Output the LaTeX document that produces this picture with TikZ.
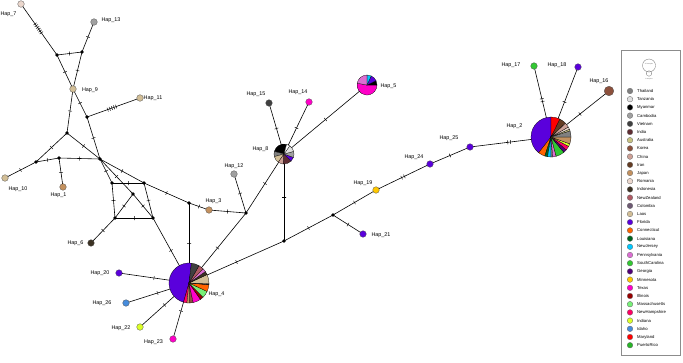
\documentclass[tikz,border=0pt]{standalone}
\usepackage{fontspec}
\setmainfont{Liberation Sans}
\usetikzlibrary{backgrounds}
\definecolor{cThailand}{RGB}{128,128,128}
\definecolor{cTanzania}{RGB}{225,225,225}
\definecolor{cMyanmar}{RGB}{0,0,0}
\definecolor{cCambodia}{RGB}{160,160,160}
\definecolor{cVietnam}{RGB}{64,64,64}
\definecolor{cIndia}{RGB}{95,45,50}
\definecolor{cAustralia}{RGB}{200,195,130}
\definecolor{cKorea}{RGB}{140,80,60}
\definecolor{cChina}{RGB}{205,160,150}
\definecolor{cIran}{RGB}{100,60,35}
\definecolor{cJapan}{RGB}{195,145,95}
\definecolor{cRomania}{RGB}{235,215,205}
\definecolor{cIndonesia}{RGB}{60,50,35}
\definecolor{cNewZealand}{RGB}{175,90,100}
\definecolor{cColombia}{RGB}{110,90,115}
\definecolor{cLaos}{RGB}{210,190,150}
\definecolor{cFlorida}{RGB}{90,0,220}
\definecolor{cConnecticut}{RGB}{255,100,0}
\definecolor{cLouisiana}{RGB}{0,100,30}
\definecolor{cNewJersey}{RGB}{0,200,255}
\definecolor{cPennsylvania}{RGB}{220,110,210}
\definecolor{cSouthCarolina}{RGB}{50,200,50}
\definecolor{cGeorgia}{RGB}{80,0,120}
\definecolor{cMinnesota}{RGB}{255,200,0}
\definecolor{cTexas}{RGB}{255,0,200}
\definecolor{cIllinois}{RGB}{150,0,0}
\definecolor{cMassachusetts}{RGB}{120,240,120}
\definecolor{cNewHampshire}{RGB}{255,0,100}
\definecolor{cIndiana}{RGB}{220,255,40}
\definecolor{cIdaho}{RGB}{70,140,220}
\definecolor{cMaryland}{RGB}{255,0,0}
\definecolor{cPuertoRico}{RGB}{40,180,40}
\newcommand\pieslice[5]{\filldraw[fill=#5, draw=black, line width=.25pt] (#1) -- ++(#3:#2) arc[start angle=#3, end angle=#4, radius=#2] -- cycle;}
\tikzset{
  hap/.style={circle, draw=black!70, line width=.3pt, inner sep=0pt, minimum size=6.6pt},
  jn/.style={circle, fill=black, inner sep=0pt, minimum size=3.6pt},
  pienode/.style={circle, inner sep=0pt, minimum size=#1},
  lbl/.style={font=\fontsize{5.4}{6}\selectfont, inner sep=0pt},
  edge/.style={line width=.6pt, black},
  tk/.style={sloped, draw, line width=.45pt, inner sep=0pt, minimum width=0pt, minimum height=4pt, rectangle},
  leg/.style={font=\fontsize{4.2}{5}\selectfont, anchor=west, inner sep=0pt},
  legdot/.style={circle, draw=black!60, line width=.3pt, inner sep=0pt, minimum size=5.6pt},
}
\begin{document}
\begin{tikzpicture}[x=1pt,y=1pt]
\useasboundingbox (0,0) rectangle (683,-362);
% junctions
\node[jn] (jA) at (57,-55) {};
\node[jn] (jB) at (82,-52) {};
\node[jn] (jC) at (87,-117) {};
\node[jn] (jD) at (67,-133) {};
\node[jn] (jE) at (36,-162) {};
\node[jn] (jF) at (59,-158) {};
\node[jn] (jG) at (100,-159) {};
\node[jn] (jH) at (112,-183) {};
\node[jn] (jI) at (144,-183) {};
\node[jn] (jJ) at (133,-194) {};
\node[jn] (jK) at (115,-218) {};
\node[jn] (jL) at (153,-218) {};
\node[jn] (jM) at (189,-203) {};
\node[jn] (jN) at (246,-213) {};
\node[jn] (jP) at (284,-241) {};
\node[jn] (jQ) at (333,-215) {};
% haplotypes
\node[hap, fill=cRomania] (h7) at (21,-4) {};
\node[hap, fill=cCambodia] (h13) at (94,-22) {};
\node[hap, fill=cLaos] (h9) at (73,-89) {};
\node[hap, fill=cLaos] (h11) at (140,-98) {};
\node[hap, fill=cLaos] (h10) at (5,-178) {};
\node[hap, fill=cJapan] (h1) at (63,-187) {};
\node[hap, fill=cIndonesia] (h6) at (91,-243) {};
\node[hap, fill=cJapan] (h3) at (209,-210) {};
\node[hap, fill=cCambodia] (h12) at (234,-174) {};
\node[hap, fill=cVietnam] (h15) at (269,-103) {};
\node[hap, fill=cTexas] (h14) at (309,-102) {};
\node[hap, fill=cFlorida] (h21) at (363,-234) {};
\node[hap, fill=cMinnesota] (h19) at (376,-190) {};
\node[hap, fill=cFlorida] (h24) at (430,-164) {};
\node[hap, fill=cFlorida] (h25) at (470,-147) {};
\node[hap, fill=cSouthCarolina] (h17) at (534,-66) {};
\node[hap, fill=cFlorida] (h18) at (578,-67) {};
\node[hap, fill=cKorea, minimum size=9.6pt] (h16) at (609,-91) {};
\node[hap, fill=cFlorida] (h20) at (119,-273) {};
\node[hap, fill=cIdaho] (h26) at (126,-303) {};
\node[hap, fill=cIndiana] (h22) at (140,-327) {};
\node[hap, fill=cTexas] (h23) at (173,-339) {};
% pies
\node[pienode=20pt] (h8) at (284,-154) {};
\node[pienode=20pt] (h5) at (367,-85) {};
\node[pienode=40pt] (h4) at (189,-283) {};
\node[pienode=40pt] (h2) at (551,-137) {};
% edges
\begin{scope}[on background layer]
\fill[white] (0,0) rectangle (683,-362);
\draw[edge] (h7.center) -- node[tk,pos=.39]{} node[tk,pos=.425]{} node[tk,pos=.46]{} node[tk,pos=.495]{} node[tk,pos=.53]{} node[tk,pos=.565]{} (jA.center);
\draw[edge] (jA.center) -- node[tk]{} (jB.center);
\draw[edge] (jB.center) -- node[tk]{} (h13.center);
\draw[edge] (jA.center) -- node[tk]{} (h9.center);
\draw[edge] (jB.center) -- node[tk]{} (h9.center);
\draw[edge] (h9.center) -- node[tk]{} (jD.center);
\draw[edge] (h9.center) -- node[tk]{} (jC.center);
\draw[edge] (jC.center) -- node[tk,pos=.39]{} node[tk,pos=.43]{} node[tk,pos=.47]{} node[tk,pos=.51]{} node[tk,pos=.55]{} (h11.center);
\draw[edge] (jC.center) -- node[tk]{} (jG.center);
\draw[edge] (jD.center) -- node[tk]{} (jE.center);
\draw[edge] (jD.center) -- node[tk]{} (jG.center);
\draw[edge] (jE.center) -- node[tk]{} (jF.center);
\draw[edge] (jF.center) -- node[tk]{} (jG.center);
\draw[edge] (jE.center) -- node[tk]{} (h10.center);
\draw[edge] (jF.center) -- node[tk]{} (h1.center);
\draw[edge] (jG.center) -- node[tk]{} (jH.center);
\draw[edge] (jG.center) -- node[tk]{} (jJ.center);
\draw[edge] (jG.center) -- node[tk]{} (jI.center);
\draw[edge] (jI.center) -- node[tk]{} (jM.center);
\draw[edge] (jH.center) -- node[tk]{} (jI.center);
\draw[edge] (jH.center) -- node[tk]{} (jK.center);
\draw[edge] (jI.center) -- node[tk]{} (jL.center);
\draw[edge] (jJ.center) -- node[tk]{} (jK.center);
\draw[edge] (jJ.center) -- node[tk]{} (jL.center);
\draw[edge] (jK.center) -- node[tk]{} (jL.center);
\draw[edge] (jK.center) -- node[tk]{} (h6.center);
\draw[edge] (jL.center) -- node[tk]{} (h4.center);
\draw[edge] (jM.center) -- node[tk]{} (h3.center);
\draw[edge] (jM.center) -- node[tk]{} (h4.center);
\draw[edge] (h3.center) -- node[tk]{} (jN.center);
\draw[edge] (h12.center) -- node[tk]{} (jN.center);
\draw[edge] (jN.center) -- node[tk]{} (h8.center);
\draw[edge] (jN.center) -- node[tk]{} (h4.center);
\draw[edge] (h8.center) -- node[tk]{} (jP.center);
\draw[edge] (jP.center) -- node[tk]{} (h4.center);
\draw[edge] (jP.center) -- node[tk]{} (jQ.center);
\draw[edge] (jQ.center) -- node[tk]{} (h21.center);
\draw[edge] (jQ.center) -- node[tk]{} (h19.center);
\draw[edge] (h19.center) -- node[tk,pos=.475]{} node[tk,pos=.525]{} (h24.center);
\draw[edge] (h24.center) -- node[tk]{} (h25.center);
\draw[edge] (h25.center) -- node[tk,pos=.465]{} node[tk,pos=.5]{} (h2.center);
\draw[edge] (h2.center) -- node[tk,pos=.5]{} node[tk,pos=.54]{} (h17.center);
\draw[edge] (h2.center) -- node[tk]{} (h18.center);
\draw[edge] (h2.center) -- node[tk]{} (h16.center);
\draw[edge] (h8.center) -- node[tk]{} (h15.center);
\draw[edge] (h8.center) -- node[tk]{} (h14.center);
\draw[edge] (h8.center) -- node[tk]{} (h5.center);
\draw[edge] (h4.center) -- node[tk]{} (h20.center);
\draw[edge] (h4.center) -- node[tk]{} (h26.center);
\draw[edge] (h4.center) -- node[tk]{} (h22.center);
\draw[edge] (h4.center) -- node[tk]{} (h23.center);
\end{scope}
% pie Hap_4
\pieslice{h4.center}{20}{83}{254}{cFlorida}
\pieslice{h4.center}{20}{254}{264}{cNewHampshire}
\pieslice{h4.center}{20}{264}{272}{cJapan}
\pieslice{h4.center}{20}{272}{282}{cKorea}
\pieslice{h4.center}{20}{282}{305}{cTexas}
\pieslice{h4.center}{20}{305}{315}{cIllinois}
\pieslice{h4.center}{20}{315}{335}{cMassachusetts}
\pieslice{h4.center}{20}{335}{355}{cConnecticut}
\pieslice{h4.center}{20}{355}{358}{cMyanmar}
\pieslice{h4.center}{20}{358}{385}{cLaos}
\pieslice{h4.center}{20}{385}{395}{cIndonesia}
\pieslice{h4.center}{20}{395}{405}{cPennsylvania}
\pieslice{h4.center}{20}{405}{420}{cNewZealand}
\pieslice{h4.center}{20}{420}{443}{cVietnam}
% pie Hap_2
\pieslice{h2.center}{20}{90}{232}{cFlorida}
\pieslice{h2.center}{20}{232}{252}{cConnecticut}
\pieslice{h2.center}{20}{252}{260}{cLouisiana}
\pieslice{h2.center}{20}{260}{270}{cNewJersey}
\pieslice{h2.center}{20}{270}{275}{cThailand}
\pieslice{h2.center}{20}{275}{285}{cPennsylvania}
\pieslice{h2.center}{20}{285}{310}{cSouthCarolina}
\pieslice{h2.center}{20}{310}{320}{cGeorgia}
\pieslice{h2.center}{20}{320}{332}{cNewHampshire}
\pieslice{h2.center}{20}{332}{340}{cIndiana}
\pieslice{h2.center}{20}{340}{360}{cJapan}
\pieslice{h2.center}{20}{360}{378}{cThailand}
\pieslice{h2.center}{20}{378}{383}{cAustralia}
\pieslice{h2.center}{20}{383}{390}{cRomania}
\pieslice{h2.center}{20}{390}{404}{cChina}
\pieslice{h2.center}{20}{404}{424}{cIran}
\pieslice{h2.center}{20}{424}{450}{cMaryland}
% pie Hap_8
\pieslice{h8.center}{10}{75}{165}{cMyanmar}
\pieslice{h8.center}{10}{165}{195}{cThailand}
\pieslice{h8.center}{10}{195}{235}{cLaos}
\pieslice{h8.center}{10}{235}{265}{cChina}
\pieslice{h8.center}{10}{265}{315}{cIndia}
\pieslice{h8.center}{10}{315}{340}{cFlorida}
\pieslice{h8.center}{10}{340}{375}{cCambodia}
\pieslice{h8.center}{10}{375}{415}{cTanzania}
\pieslice{h8.center}{10}{415}{435}{white}
% pie Hap_5
\pieslice{h5.center}{10}{170}{360}{cTexas}
\pieslice{h5.center}{10}{0}{25}{cMyanmar}
\pieslice{h5.center}{10}{25}{65}{cFlorida}
\pieslice{h5.center}{10}{65}{90}{cNewJersey}
\pieslice{h5.center}{10}{90}{170}{cPennsylvania}
% labels
\node[lbl] (l7) at (8.5,-14) {Hap\_7};
\node[lbl] (l13) at (111,-20) {Hap\_13};
\node[lbl] (l9) at (90,-90) {Hap\_9};
\node[lbl] (l11) at (153,-98) {Hap\_11};
\node[lbl] (l10) at (18,-189) {Hap\_10};
\node[lbl] (l1) at (58.5,-195) {Hap\_1};
\node[lbl] (l6) at (75.5,-243) {Hap\_6};
\node[lbl] (l3) at (213.5,-201) {Hap\_3};
\node[lbl] (l12) at (234,-166) {Hap\_12};
\node[lbl] (l8) at (260.5,-149) {Hap\_8};
\node[lbl] (l15) at (256,-94) {Hap\_15};
\node[lbl] (l14) at (298,-92) {Hap\_14};
\node[lbl] (l5) at (388.5,-86) {Hap\_5};
\node[lbl] (l19) at (363,-183) {Hap\_19};
\node[lbl] (l24) at (414,-157) {Hap\_24};
\node[lbl] (l25) at (449,-138) {Hap\_25};
\node[lbl] (l21) at (381,-235) {Hap\_21};
\node[lbl] (l2) at (514.5,-126) {Hap\_2};
\node[lbl] (l17) at (511,-65) {Hap\_17};
\node[lbl] (l18) at (557,-65) {Hap\_18};
\node[lbl] (l16) at (599,-81) {Hap\_16};
\node[lbl] (l4) at (216.5,-294) {Hap\_4};
\node[lbl] (l20) at (100,-273) {Hap\_20};
\node[lbl] (l26) at (102,-303) {Hap\_26};
\node[lbl] (l22) at (121,-328) {Hap\_22};
\node[lbl] (l23) at (153.5,-342) {Hap\_23};
% legend
\node[draw=black!45, line width=.4pt, rectangle, inner sep=0pt, minimum width=59.5pt, minimum height=305pt] (legbox) at (650.75,-203) {};
\node[circle, draw=black!55, line width=.3pt, inner sep=0pt, minimum size=13pt] (sz10) at (649,-65.5) {};
\node[circle, draw=black!55, line width=.3pt, inner sep=0pt, minimum size=5.4pt] (sz1) at (649,-73.5) {};
\node[font=\fontsize{1.6}{2}\selectfont, text=black!60, inner sep=0pt] (tsz10) at (649,-64.5) {10 samples};
\node[font=\fontsize{1.6}{2}\selectfont, text=black!60, inner sep=0pt] (tsz1) at (649,-79.5) {1 samples};
\foreach \n [count=\i from 0] in {Thailand,Tanzania,Myanmar,Cambodia,Vietnam,India,Australia,Korea,China,Iran,Japan,Romania,Indonesia,NewZealand,Colombia,Laos,Florida,Connecticut,Louisiana,NewJersey,Pennsylvania,SouthCarolina,Georgia,Minnesota,Texas,Illinois,Massachusetts,NewHampshire,Indiana,Idaho,Maryland,PuertoRico}{
  \node[legdot, fill=c\n] (d\i) at (630,{-91-8.2*\i}) {};
  \node[leg] (t\i) at (637,{-91-8.2*\i}) {\n};
}
\end{tikzpicture}
\end{document}
